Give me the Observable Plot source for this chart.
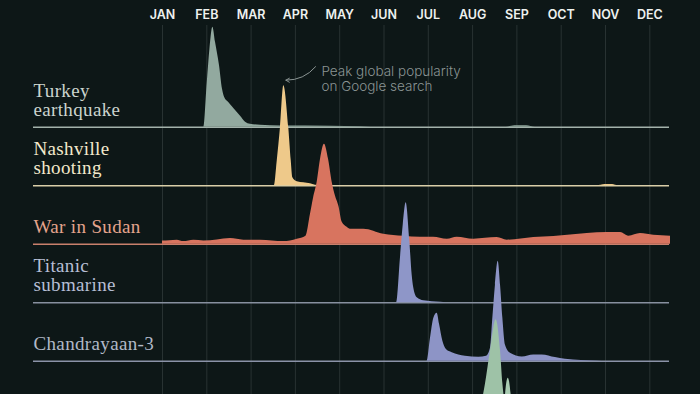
<!DOCTYPE html>
<html>
<head>
<meta charset="utf-8">
<script src="https://cdn.jsdelivr.net/npm/d3@7"></script>
<script src="https://cdn.jsdelivr.net/npm/@observablehq/plot@0.6"></script>
<style>
  html, body { margin: 0; padding: 0; background: #0d1717; overflow: hidden; }
  #chart svg { display: block; }
  #chart g[font-family="Liberation Serif"] text { letter-spacing: 0.35px; }
</style>
</head>
<body>
<div id="chart"></div>
<script>
// ---- data (x = day of the year, equal-width months; y = relative search interest, peak = 100) ----
const months = ["JAN","FEB","MAR","APR","MAY","JUN","JUL","AUG","SEP","OCT","NOV","DEC"];
const monthTicks = months.map((_, i) => i * 365 / 12);

const events = ["Turkey\nearthquake", "Nashville\nshooting", "War in Sudan", "Titanic\nsubmarine", "Chandrayaan-3", "Hurricane Hilary", "Hurricane Idalia"];

const turkeyEarthquake = [[0,0],[28.4,0],[30.7,44],[32.5,77],[34.6,100],[36.4,85],[39.1,62],[41.2,38],[42.6,30],[45.3,25],[49.4,18],[53.6,11],[57,5],[60.4,3],[67.3,2],[81,1.2],[115,1],[136,0.5],[143,0],[236,0],[242,1.5],[250,1.5],[256,0],[349,0]];
const nashvilleShooting = [[0,0],[76.9,0],[78.8,25],[81,58],[83.3,100],[86.7,58],[88.4,25],[89.5,8],[92.5,4],[101.6,2],[105,0.5],[110,0],[298,0],[304,1.3],[309,1.3],[313,0],[349,0]];
const warInSudan = [[0,3.3],[5,3.5],[10.1,4],[14.6,2.6],[21.5,4],[28.4,3.3],[37.6,4.3],[46.7,5.6],[55.8,4],[67.3,4],[83.3,2.6],[92.5,5],[98.5,8],[101.6,30],[103.7,46],[106.2,62],[108.5,85],[111.2,100],[114,85],[116.5,62],[118.8,48],[121.1,38],[123.4,22],[126.8,17],[129,15],[138.2,15],[151.9,10],[165.5,8],[177.1,7],[186.1,7],[195.5,5],[202.3,7],[213.7,5],[229.8,6.6],[236.7,4],[254.9,6.6],[268.7,7.6],[291.6,10.6],[305.3,11.6],[314.5,11.6],[320.2,8],[328.2,10.6],[337.3,9],[348.8,8]];
const titanicSubmarine = [[0,0],[160.7,0],[163.4,45],[165.3,78],[167.3,100],[169.8,62],[171.4,28],[172.5,15],[174.9,5],[179.4,2],[190.9,0.5],[195,0],[349,0]];
const chandrayaan3 = [[0,0],[181.7,0],[184,23],[186.3,43],[188.6,48],[190.2,37],[192.5,20],[194.8,12],[198.9,8.5],[208,5],[217.2,4],[222.5,5],[225.2,13],[226.8,43],[228.6,76],[230.5,100],[232.1,76],[233.7,43],[235.5,16],[238.9,8],[247,4.3],[254.9,6.3],[260.7,6.3],[269.8,3.6],[276.7,2],[298.7,0.3],[305,0],[349,0]];
const hurricaneHilary = [[0,0],[214,0],[217,5],[221.8,36],[225.2,69],[229.1,100],[232.1,69],[233.7,36],[236,12],[240,5],[250,2],[270,0],[349,0]];
const hurricaneIdalia = [[0,0],[232,0],[234,30],[235.5,83],[237.4,100],[239.4,83],[241,30],[243,5],[250,1],[260,0],[349,0]];
const seriesValues = [turkeyEarthquake, nashvilleShooting, warInSudan, titanicSubmarine, chandrayaan3, hurricaneHilary, hurricaneIdalia];

const annotationText = "Peak global popularity\non Google search";

// ---- styles ----
const fills      = ["#92a99f", "#eec98a", "#d8745f", "#8e96c8", "#8d94c6", "#9ec2a7", "#a9ccb2"];
const lineColors = ["#a3b2ab", "#d9cea8", "#c9806c", "#87909f", "#8b93a8", "#9db5a3", "#a3bca9"];
const textColors = ["#cbd4ce", "#f3e9cc", "#e4a48d", "#b6bed4", "#b1b9c7", "#c3d8c8", "#c3d8c8"];
const ROW = 58.5;       // vertical step between ridges, in y units (1 unit = 1 px)
const VISIBLE_ROWS = 5; // rows whose labels fall inside the picture

const rows = events.map((name, i) => ({
  name, i, base: -i * ROW,
  points: seriesValues[i].map(([day, v]) => ({day, base: -i * ROW, top: -i * ROW + v}))
}));

const marks = [
  Plot.ruleX(monthTicks, {x: d => d, stroke: "#283232", strokeWidth: 1})
];

rows.forEach((r, i) => {
  marks.push(
    Plot.ruleY([r], {y: "base", stroke: lineColors[i], strokeWidth: 1.6, insetLeft: -129, insetRight: 24.6}),
    Plot.area(r.points, {x1: "day", y1: "base", y2: "top", fill: fills[i], curve: "monotone-x"})
  );
  if (i < VISIBLE_ROWS) {
    marks.push(Plot.text([r], {
      y: "base", text: "name", frameAnchor: "left", dx: -129, dy: -11.5,
      textAnchor: "start", lineAnchor: "bottom", lineHeight: 1.0,
      fill: textColors[i], fontFamily: "Liberation Serif", fontSize: 19
    }));
  }
});

// month labels
marks.push(
  Plot.text(monthTicks, {
    x: d => d, text: (d, i) => months[i], frameAnchor: "top", dy: -6.3,
    lineAnchor: "bottom", fill: "#eef1ef", fontFamily: "Inter", fontWeight: 600, fontSize: 12.5
  })
);

// annotation pointing at the Nashville peak
const peakRow = rows[1];
const peak = peakRow.points.reduce((a, b) => (b.top > a.top ? b : a));
const note = [{x: peak.day + 25.8, y: peak.top + 20.5, x1: peak.day + 21.8, y1: peak.top + 19, x2: peak.day + 1.4, y2: peak.top + 5.5, text: annotationText}];
marks.push(
  Plot.arrow(note, {x1: "x1", y1: "y1", x2: "x2", y2: "y2", bend: 25, stroke: "#8a9493", strokeWidth: 1, headLength: 6}),
  Plot.text(note, {x: "x", y: "y", text: "text", textAnchor: "start", lineAnchor: "top", lineHeight: 1.12,
    fill: "#8a9493", fontFamily: "Inter", fontWeight: 300, fontSize: 13.5})
);

const chart = Plot.plot({
  width: 700,
  height: 394,
  marginLeft: 162,
  marginRight: 6.4,
  marginTop: 25,
  marginBottom: 0,
  x: {domain: [0, 365], axis: null},
  y: {domain: [-267.3, 101.7], axis: null},
  style: {background: "#0d1717", overflow: "hidden"},
  marks
});
document.getElementById("chart").appendChild(chart);
</script>
</body>
</html>
